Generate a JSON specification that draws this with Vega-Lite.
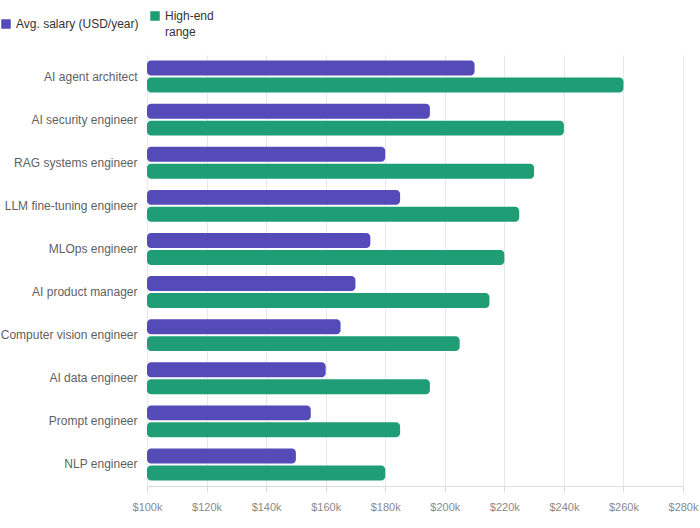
{
  "$schema": "https://vega.github.io/schema/vega-lite/v6.json",
  "autosize": {"type": "none"},
  "width": 536,
  "height": 431,
  "padding": {"left": 147, "top": 55, "right": 17, "bottom": 42},
  "background": "#ffffff",
  "config": {
    "view": {"stroke": null},
    "font": "Liberation Sans",
    "style": {"guide-label": {"lineHeight": 16}}
  },
  "data": {
    "values": [
      {"role": "AI agent architect", "series": "Avg. salary (USD/year)", "value": 210000},
      {"role": "AI agent architect", "series": "High-end range", "value": 260000},
      {"role": "AI security engineer", "series": "Avg. salary (USD/year)", "value": 195000},
      {"role": "AI security engineer", "series": "High-end range", "value": 240000},
      {"role": "RAG systems engineer", "series": "Avg. salary (USD/year)", "value": 180000},
      {"role": "RAG systems engineer", "series": "High-end range", "value": 230000},
      {"role": "LLM fine-tuning engineer", "series": "Avg. salary (USD/year)", "value": 185000},
      {"role": "LLM fine-tuning engineer", "series": "High-end range", "value": 225000},
      {"role": "MLOps engineer", "series": "Avg. salary (USD/year)", "value": 175000},
      {"role": "MLOps engineer", "series": "High-end range", "value": 220000},
      {"role": "AI product manager", "series": "Avg. salary (USD/year)", "value": 170000},
      {"role": "AI product manager", "series": "High-end range", "value": 215000},
      {"role": "Computer vision engineer", "series": "Avg. salary (USD/year)", "value": 165000},
      {"role": "Computer vision engineer", "series": "High-end range", "value": 205000},
      {"role": "AI data engineer", "series": "Avg. salary (USD/year)", "value": 160000},
      {"role": "AI data engineer", "series": "High-end range", "value": 195000},
      {"role": "Prompt engineer", "series": "Avg. salary (USD/year)", "value": 155000},
      {"role": "Prompt engineer", "series": "High-end range", "value": 185000},
      {"role": "NLP engineer", "series": "Avg. salary (USD/year)", "value": 150000},
      {"role": "NLP engineer", "series": "High-end range", "value": 180000}
    ]
  },
  "mark": {"type": "bar", "cornerRadiusEnd": 4},
  "encoding": {
    "y": {
      "field": "role",
      "type": "nominal",
      "sort": null,
      "title": null,
      "scale": {"paddingInner": 0.26, "paddingOuter": 0.13},
      "axis": {
        "domain": false,
        "ticks": false,
        "labelPadding": 10,
        "labelFontSize": 12,
        "labelColor": "#5f5f5f",
        "labelLimit": 200
      }
    },
    "yOffset": {
      "field": "series",
      "type": "nominal",
      "scale": {"paddingInner": 0.12, "paddingOuter": 0}
    },
    "x": {
      "field": "value",
      "type": "quantitative",
      "title": null,
      "scale": {"domain": [100000, 280000], "nice": false, "zero": false},
      "axis": {
        "values": [100000, 120000, 140000, 160000, 180000, 200000, 220000, 240000, 260000, 280000],
        "labelExpr": "'$' + (datum.value / 1000) + 'k'",
        "labelFontSize": 11,
        "labelColor": "#8a8a8a",
        "labelPadding": 9,
        "labelFlush": false,
        "labelOverlap": false,
        "grid": true,
        "gridColor": "#e8e8e8",
        "domainColor": "#dcdcdc",
        "tickColor": "#dcdcdc",
        "tickSize": 6
      }
    },
    "x2": {"datum": 100000},
    "color": {
      "field": "series",
      "type": "nominal",
      "title": null,
      "scale": {
        "domain": ["Avg. salary (USD/year)", "High-end range"],
        "range": ["#544bb8", "#1f9e75"]
      },
      "legend": {
        "orient": "none",
        "direction": "horizontal",
        "legendX": -147,
        "legendY": -45,
        "symbolType": "square",
        "symbolSize": 90,
        "symbolStrokeWidth": 0,
        "symbolOpacity": 1,
        "labelFontSize": 12,
        "labelColor": "#333333",
        "labelOffset": 4,
        "columnPadding": 10,
        "labelLimit": 200,
        "labelExpr": "datum.label == 'High-end range' ? ['High-end', 'range'] : datum.label"
      }
    }
  }
}
